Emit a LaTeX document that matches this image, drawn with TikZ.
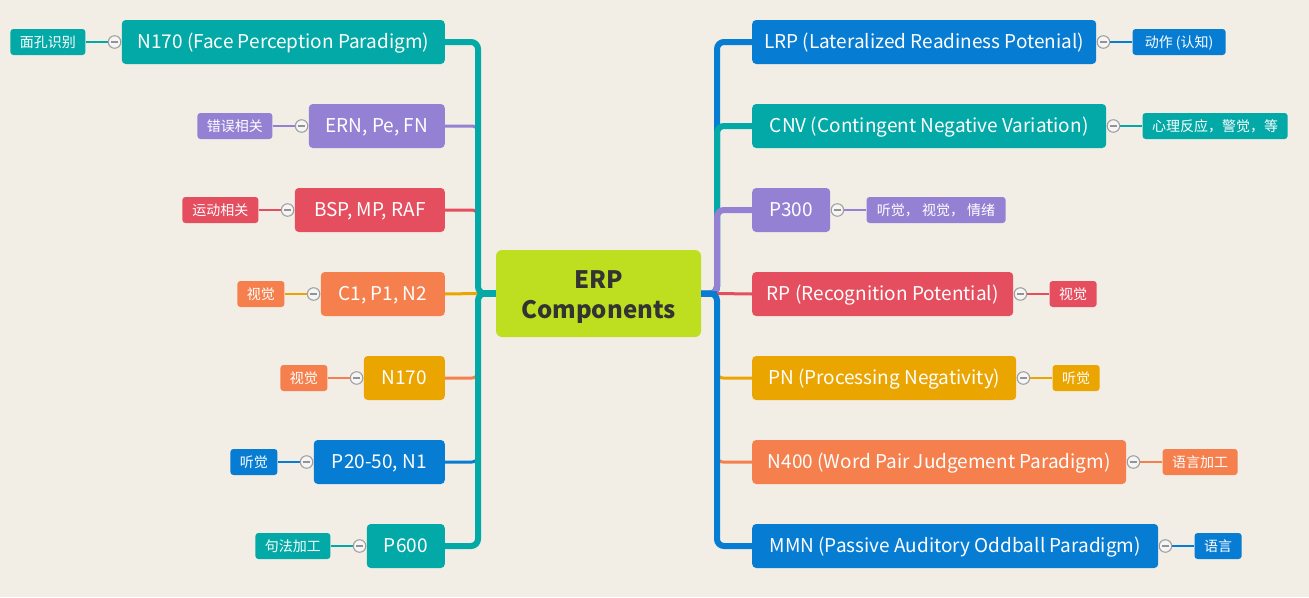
\documentclass[tikz,border=0pt]{standalone}
\usepackage{fontspec}
\setmainfont{Noto Sans CJK SC}
\definecolor{paper}{HTML}{F3EEE5}
\definecolor{cteal}{HTML}{02A9A6}
\definecolor{cpurple}{HTML}{9581D4}
\definecolor{cred}{HTML}{E44E5F}
\definecolor{corange}{HTML}{F5804D}
\definecolor{camber}{HTML}{EBA500}
\definecolor{cblue}{HTML}{077CD3}
\definecolor{clime}{HTML}{BEDF1F}
\definecolor{cdark}{HTML}{333333}
\tikzset{
  mainbox/.style={rounded corners=4pt, text=white, minimum height=44pt,
    inner xsep=0pt, inner ysep=0pt, text height=13.5pt, text depth=0pt,
    font=\fontsize{19}{22}\selectfont},
  leafbox/.style={rounded corners=3pt, text=white, minimum height=26pt,
    inner xsep=0pt, inner ysep=0pt, text height=11.5pt, text depth=1pt,
    font=\fontsize{14}{16}\selectfont},
  fold/.style={circle, draw=gray!75, fill=white!92!gray, line width=1.1pt,
    minimum size=12.5pt, inner sep=0pt,
    path picture={\draw[gray!85, line width=1.6pt]
      ([xshift=-3.5pt]path picture bounding box.center) --
      ([xshift=3.5pt]path picture bounding box.center);}},
  thick branch/.style={line width=6pt, rounded corners=7pt},
  thin branch/.style={line width=3pt, rounded corners=6pt},
  leafline/.style={line width=2.2pt},
}
\begin{document}
\begin{tikzpicture}[x=1pt, y=-1pt]
  \useasboundingbox (0,0) rectangle (1309,597);
  \fill[paper] (0,0) rectangle (1309,597);

  % central topic: box and its two-line title
  \node[rounded corners=6pt, fill=clime, minimum width=205pt,
    minimum height=87pt, inner sep=0pt] (C) at (598.5,293.5) {};
  \node[text=cdark, align=center, inner sep=0pt,
    font=\fontsize{24}{30}\selectfont\bfseries] (Ct) at ([yshift=-4pt]C.center) {ERP\\Components};

  % left-hand topics, right edges aligned
  \node[mainbox, fill=cteal,   minimum width=323pt, anchor=east] (L1) at (445,42)  {N170 (Face Perception Paradigm)};
  \node[mainbox, fill=cpurple, minimum width=136pt, anchor=east] (L2) at (445,126) {ERN, Pe, FN};
  \node[mainbox, fill=cred,    minimum width=150pt, anchor=east] (L3) at (445,210) {BSP, MP, RAF};
  \node[mainbox, fill=corange, minimum width=124pt, anchor=east] (L4) at (445,294) {C1, P1, N2};
  \node[mainbox, fill=camber,  minimum width=81pt,  anchor=east] (L5) at (445,378) {N170};
  \node[mainbox, fill=cblue,   minimum width=131pt, anchor=east] (L6) at (445,462) {P20-50, N1};
  \node[mainbox, fill=cteal,   minimum width=78pt,  anchor=east] (L7) at (445,546) {P600};

  % right-hand topics, left edges aligned
  \node[mainbox, fill=cblue,   minimum width=344pt, anchor=west] (R1) at (752,42)  {LRP (Lateralized Readiness Potenial)};
  \node[mainbox, fill=cteal,   minimum width=354pt, anchor=west] (R2) at (752,126) {CNV (Contingent Negative Variation)};
  \node[mainbox, fill=cpurple, minimum width=78pt,  anchor=west] (R3) at (752,210) {P300};
  \node[mainbox, fill=cred,    minimum width=261pt, anchor=west] (R4) at (752,294) {RP (Recognition Potential)};
  \node[mainbox, fill=camber,  minimum width=264pt, anchor=west] (R5) at (752,378) {PN (Processing Negativity)};
  \node[mainbox, fill=corange, minimum width=374pt, anchor=west] (R6) at (752,462) {N400 (Word Pair Judgement Paradigm)};
  \node[mainbox, fill=cblue,   minimum width=406pt, anchor=west] (R7) at (752,546) {MMN (Passive Auditory Oddball Paradigm)};

  % trunk junctions
  \coordinate (LJ) at (478,293.5);
  \coordinate (RJ) at (717,293.5);

  % left branches: inner ones first, outer ones over them
  \draw[thin branch, cpurple] (C.west) -- (LJ) |- (L2.east);
  \draw[thin branch, cred]    (C.west) -- (LJ) |- (L3.east);
  \draw[thin branch, camber]  (LJ) -- (L4.east);
  \draw[thin branch, corange] (C.west) -- (LJ) |- (L5.east);
  \draw[thin branch, cblue]   (C.west) -- (LJ) |- (L6.east);
  \draw[thick branch, cteal]  (C.west) -- (LJ) |- (L1.east);
  \draw[thick branch, cteal]  (C.west) -- (LJ) |- (L7.east);
  \draw[line width=7pt, cteal] (C.west) -- (LJ);

  % right branches
  \draw[thick branch, cblue]   (C.east) -- (RJ) |- (R1.west);
  \draw[thick branch, cteal]   (C.east) -- (RJ) |- (R2.west);
  \draw[thick branch, cpurple] (C.east) -- (RJ) |- (R3.west);
  \draw[thin branch, cred]     (RJ) -- (R4.west);
  \draw[thin branch, camber]   (C.east) -- (RJ) |- (R5.west);
  \draw[thin branch, corange]  (C.east) -- (RJ) |- (R6.west);
  \draw[thick branch, cblue]   (C.east) -- (RJ) |- (R7.west);
  \draw[line width=6pt, cblue] (C.east) -- (RJ);

  % left leaves with fold markers
  \foreach \n/\col/\w/\txt in {L1/cteal/75/面孔识别, L2/cpurple/75/错误相关, L3/cred/76/运动相关,
      L4/corange/47/视觉, L5/corange/47/视觉, L6/cblue/47/听觉, L7/cteal/75/句法加工} {
    \node[fold] (\n f) at ([xshift=-7pt]\n.west) {};
    \node[leafbox, fill=\col, minimum width=\w pt, anchor=east] (\n l) at ([xshift=-36pt]\n.west) {\txt};
  }
  \draw[leafline, cteal]   (L1l.east) -- (L1f.west);
  \draw[leafline, cpurple] (L2l.east) -- (L2f.west);
  \draw[leafline, cred]    (L3l.east) -- (L3f.west);
  \draw[leafline, camber]  (L4l.east) -- (L4f.west);
  \draw[leafline, corange] (L5l.east) -- (L5f.west);
  \draw[leafline, cblue]   (L6l.east) -- (L6f.west);
  \draw[leafline, cteal]   (L7l.east) -- (L7f.west);

  % right leaves with fold markers
  \foreach \n/\col/\w/\txt in {R1/cblue/93/{动作 (认知)}, R2/cteal/145/{心理反应，警觉，等}, R3/cpurple/139/{听觉， 视觉， 情绪},
      R4/cred/47/视觉, R5/camber/47/听觉, R6/corange/75/语言加工, R7/cblue/47/语言} {
    \node[fold] (\n f) at ([xshift=7pt]\n.east) {};
    \node[leafbox, fill=\col, minimum width=\w pt, anchor=west] (\n l) at ([xshift=36pt]\n.east) {\txt};
  }
  \draw[leafline, cblue]   (R1f.east) -- (R1l.west);
  \draw[leafline, cteal]   (R2f.east) -- (R2l.west);
  \draw[leafline, cpurple] (R3f.east) -- (R3l.west);
  \draw[leafline, cred]    (R4f.east) -- (R4l.west);
  \draw[leafline, camber]  (R5f.east) -- (R5l.west);
  \draw[leafline, corange] (R6f.east) -- (R6l.west);
  \draw[leafline, cblue]   (R7f.east) -- (R7l.west);
\end{tikzpicture}
\end{document}
